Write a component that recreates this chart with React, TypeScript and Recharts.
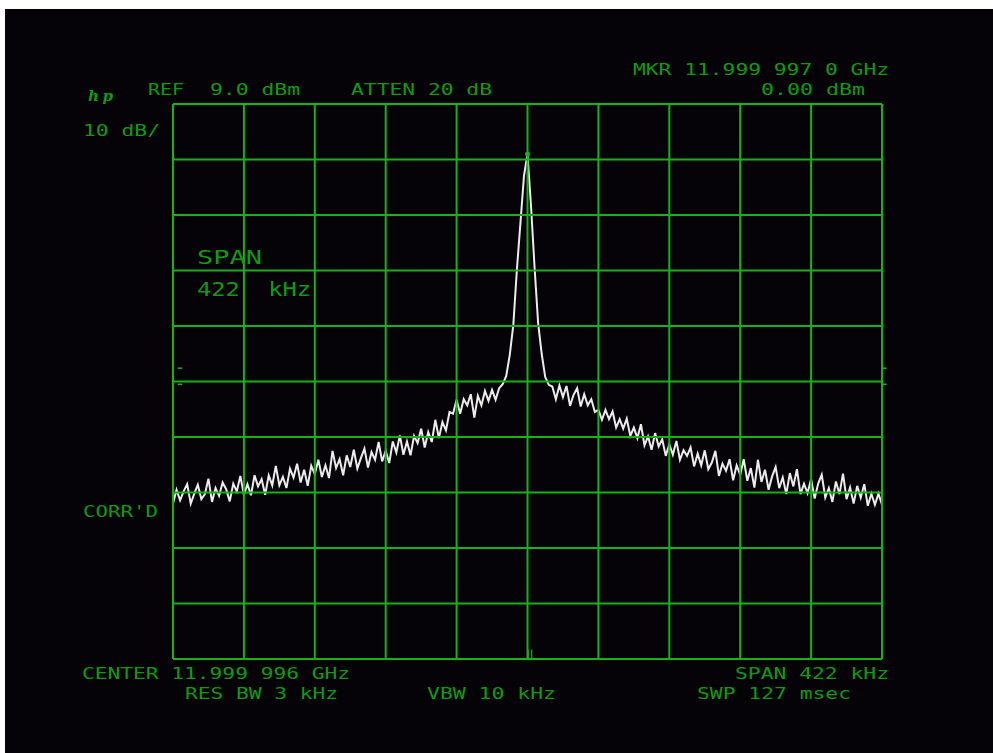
import { LineChart, Line, XAxis, YAxis, ReferenceLine, ReferenceDot } from 'recharts';

// swept trace, dBm per display point (201 points across the 422 kHz span)
const traceDbm = [
  -63.0, -60.5, -62.4, -60.8, -59.5, -63.0, -61.2, -59.6, -62.2, -61.3,
  -58.5, -62.7, -60.2, -61.6, -59.2, -60.4, -62.6, -59.4, -60.8, -58.0,
  -61.4, -59.5, -61.5, -57.9, -59.9, -58.6, -61.4, -57.9, -59.7, -56.2,
  -59.7, -58.2, -60.2, -56.7, -58.3, -55.8, -59.2, -56.9, -59.8, -56.2,
  -57.7, -55.1, -58.2, -56.1, -58.4, -53.5, -56.6, -55.0, -57.9, -54.3,
  -56.4, -53.3, -56.7, -54.8, -53.1, -56.5, -53.7, -55.1, -51.9, -55.4,
  -53.5, -55.7, -51.8, -53.8, -50.7, -54.2, -51.8, -54.3, -50.8, -52.1,
  -49.5, -52.9, -50.1, -51.9, -47.9, -51.2, -48.3, -49.8, -46.5, -46.8,
  -44.3, -46.8, -44.2, -45.3, -43.3, -47.5, -43.6, -45.3, -42.7, -44.5,
  -42.5, -44.3, -42.2, -41.5, -40.0, -36.2, -30.8, -20.9, -12.5, -4.0,
  0.0, -9.5, -20.5, -30.5, -36.0, -40.2, -41.6, -41.9, -44.2, -41.7,
  -43.8, -41.8, -45.4, -43.4, -42.2, -45.5, -43.3, -45.3, -44.2, -46.5,
  -46.1, -47.9, -46.1, -47.8, -46.4, -49.3, -47.8, -49.5, -47.7, -50.8,
  -49.3, -51.2, -48.7, -52.5, -50.9, -53.3, -50.3, -52.7, -51.4, -54.4,
  -52.3, -54.2, -51.7, -55.1, -53.4, -54.4, -52.9, -56.3, -54.0, -56.1,
  -53.4, -56.8, -55.6, -53.5, -58.0, -55.8, -57.1, -55.0, -58.8, -56.1,
  -57.8, -55.0, -58.9, -56.6, -60.1, -55.1, -59.1, -56.9, -60.5, -58.1,
  -56.4, -60.2, -58.3, -61.3, -57.5, -59.9, -56.8, -61.3, -59.4, -61.1,
  -58.6, -62.1, -59.4, -57.8, -61.9, -60.2, -62.7, -59.0, -61.3, -57.6,
  -62.2, -60.1, -63.0, -59.8, -61.9, -59.5, -63.4, -61.2, -63.2, -61.2,
  -63.2,
];

// graticule: 10 divisions each way
const freqDivisions = [0, 20, 40, 60, 80, 100, 120, 140, 160, 180, 200];
const levelDivisions = [9, -1, -11, -21, -31, -41, -51, -61, -71, -81, -91];

// marker
const markerIndex = 100;
const markerDbm = 0;

// annotation strings
const headerLabels = ['REF', '9.0 dBm', 'ATTEN 20 dB'];
const markerLabels = ['MKR 11.999 997 0 GHz', '0.00 dBm'];
const sideLabels = ['10 dB/', "CORR'D"];
const spanLabels = ['SPAN', '422  kHz'];
const footerLabels = ['CENTER 11.999 996 GHz', 'SPAN 422 kHz', 'RES BW 3 kHz', 'VBW 10 kHz', 'SWP 127 msec'];

const data = traceDbm.map((dbm, i) => ({ i, dbm }));

const GRID = '#14b414';
const TEXT = '#119a11';
const font = '"DejaVu Sans Mono", monospace';

function Txt({ x, y, len, size = 15, children }: { x: number; y: number; len: number; size?: number; children: string }) {
  return (
    <text x={x} y={y} textLength={len} lengthAdjust="spacingAndGlyphs" fill={TEXT} fontFamily={font} fontSize={size} style={{ whiteSpace: 'pre' }}>
      {children}
    </text>
  );
}

export default function App() {
  return (
    <div style={{ position: 'absolute', left: 0, top: 0, width: 993, height: 753, background: '#fff' }}>
      <div style={{ position: 'absolute', left: 5, top: 9, width: 988, height: 744, background: '#050307' }} />
      <div style={{ position: 'absolute', left: 0, top: 0 }}>
        <LineChart width={993} height={753} data={data} margin={{ top: 104, left: 173, right: 111, bottom: 94 }}>
          <XAxis dataKey="i" type="number" domain={[0, 200]} hide allowDataOverflow />
          <YAxis type="number" domain={[-91, 9]} hide allowDataOverflow />
          <Line
            dataKey="dbm"
            type="linear"
            stroke="#ececec"
            strokeWidth={2}
            dot={false}
            isAnimationActive={false}
          />
          {freqDivisions.map((f) => (
            <ReferenceLine key={'v' + f} x={f} stroke={GRID} strokeWidth={2} />
          ))}
          {levelDivisions.map((l) => (
            <ReferenceLine key={'h' + l} y={l} stroke={GRID} strokeWidth={2} />
          ))}
          <ReferenceLine segment={[{ x: 1.3, y: -38.6 }, { x: 2.6, y: -38.6 }]} stroke={GRID} strokeWidth={1.5} ifOverflow="visible" />
          <ReferenceLine segment={[{ x: 1.3, y: -41.5 }, { x: 2.6, y: -41.5 }]} stroke={GRID} strokeWidth={1.5} ifOverflow="visible" />
          <ReferenceLine segment={[{ x: 200, y: -38.6 }, { x: 201.3, y: -38.6 }]} stroke={GRID} strokeWidth={1.5} ifOverflow="visible" />
          <ReferenceLine segment={[{ x: 200, y: -41.5 }, { x: 201.3, y: -41.5 }]} stroke={GRID} strokeWidth={1.5} ifOverflow="visible" />
          <ReferenceLine segment={[{ x: 100.2, y: -89.3 }, { x: 100.2, y: -91 }]} stroke={GRID} strokeWidth={1.2} ifOverflow="visible" />
          <ReferenceLine segment={[{ x: 101.2, y: -89.3 }, { x: 101.2, y: -91 }]} stroke={GRID} strokeWidth={1.2} ifOverflow="visible" />
          <ReferenceDot x={markerIndex} y={markerDbm} r={2.5} fill={GRID} stroke="none" ifOverflow="visible" />
        </LineChart>
      </div>
      <svg width={993} height={753} style={{ position: 'absolute', left: 0, top: 0, pointerEvents: 'none' }}>
        <text x={88} y={101} fill={TEXT} fontFamily='"DejaVu Serif", serif' fontStyle="italic" fontWeight="bold" fontSize={15} textLength={25} lengthAdjust="spacing">
          hp
        </text>
        <Txt x={148} y={95} len={36}>{headerLabels[0]}</Txt>
        <Txt x={210} y={95} len={90}>{headerLabels[1]}</Txt>
        <Txt x={351} y={95} len={141}>{headerLabels[2]}</Txt>
        <Txt x={633} y={75} len={256}>{markerLabels[0]}</Txt>
        <Txt x={761} y={95} len={104}>{markerLabels[1]}</Txt>
        <Txt x={83} y={136} len={77}>{sideLabels[0]}</Txt>
        <Txt x={83} y={517} len={75}>{sideLabels[1]}</Txt>
        <Txt x={197} y={264} len={65} size={19}>{spanLabels[0]}</Txt>
        <Txt x={197} y={296} len={114} size={19}>{spanLabels[1]}</Txt>
        <Txt x={82} y={679} len={268}>{footerLabels[0]}</Txt>
        <Txt x={735} y={679} len={154}>{footerLabels[1]}</Txt>
        <Txt x={185} y={699} len={153}>{footerLabels[2]}</Txt>
        <Txt x={427} y={699} len={129}>{footerLabels[3]}</Txt>
        <Txt x={697} y={699} len={154}>{footerLabels[4]}</Txt>
      </svg>
    </div>
  );
}
